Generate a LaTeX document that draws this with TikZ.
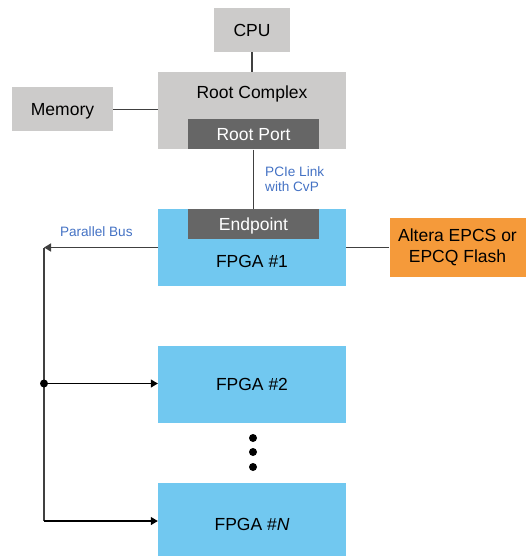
\documentclass[tikz,border=0pt]{standalone}
\usepackage{fontspec}
\setmainfont{Liberation Sans}
\usetikzlibrary{arrows.meta}

\definecolor{hostgray}{HTML}{CCCBCA}
\definecolor{portgray}{HTML}{666666}
\definecolor{fpgablue}{HTML}{71C8F0}
\definecolor{flashorange}{HTML}{F59A3A}
\definecolor{linkblue}{HTML}{4472C4}
\definecolor{wiregray}{HTML}{404040}

\begin{document}
\begin{tikzpicture}[
  x=1pt, y=-1pt,
  every node/.style = {font=\fontsize{17.5}{20.7}\selectfont, inner sep=0pt},
  onetext/.style  = {text height=12.6pt, text depth=0pt},
  hostbox/.style  = {rectangle, fill=hostgray},
  portbox/.style  = {rectangle, fill=portgray, text=white, onetext,
                     minimum width=131pt, minimum height=30pt},
  fpgabox/.style  = {rectangle, fill=fpgablue,
                     minimum width=188pt, minimum height=#1},
  flashbox/.style = {rectangle, fill=flashorange, align=center,
                     minimum width=136pt, minimum height=59pt},
  buslbl/.style   = {font=\fontsize{13.6}{15.7}\selectfont, text=linkblue},
  wire/.style     = {line width=1.5pt, wiregray},
  busarr/.style   = {-{Triangle[length=7pt, width=8pt]}, line width=1.2pt, black},
]
\useasboundingbox (0,0) rectangle (525,556);

%% ── Host side ─────────────────────────────────────────────────────────────
\node[hostbox, onetext, minimum width=76pt, minimum height=44pt]
  at (252, 30) (cpu) {CPU};
\node[hostbox, minimum width=188pt, minimum height=77pt]
  at (252, 110.5) (rc) {};
\node[onetext] at (252, 92.3) (rctext) {Root Complex};
\node[portbox] at (253.5, 134.5) (rport) {Root Port};
\node[hostbox, onetext, minimum width=101pt, minimum height=44pt]
  at (62.5, 109.5) (mem) {Memory};

%% ── FPGA #1 and flash ─────────────────────────────────────────────────────
\node[fpgabox=77pt] at (252, 247.5) (fpga1) {};
\node[portbox] at (253.5, 224) (endpt) {Endpoint};
\node[onetext] at (252, 261) (fpga1text) {FPGA \#1};
\node[flashbox] at (457.5, 247.5) (flash) {Altera EPCS or\\EPCQ Flash};

%% ── Further FPGAs ─────────────────────────────────────────────────────────
\node[fpgabox=77pt, onetext] at (252, 384.5) (fpga2) {FPGA \#2};
\node[fpgabox=82pt] at (252, 524) (fpgaN) {};
\node[onetext] at (252, 524) (fpgaNtext) {FPGA \#\textit{N}};
\foreach \y in {438, 452, 467}
  \fill (253, \y) circle (4pt);

%% ── Labels ───────────────────────────────────────────────────────────────
\node[buslbl, align=left, anchor=base west]
  at (265, 191.7) (linklbl) {PCIe Link\\with CvP};
\node[buslbl, onetext, text height=9.9pt] at (96.3, 231.7) (buslbl) {Parallel Bus};

%% ── Connectors ───────────────────────────────────────────────────────────
\coordinate (bustop) at (44, 247.5);
\coordinate (junc)   at (44, 383.5);
\coordinate (busbot) at (44, 521);

\draw[wire] (cpu) -- (cpu |- rc.north);
\draw[wire] (mem.east) -- (mem.east -| rc.west);
\draw[wire] (rport) -- (endpt);
\draw[wire] (flash.west) -- (flash.west -| fpga1.east);
\draw[wire, -{Triangle[length=7pt, width=8pt]}] (fpga1.west) -- (bustop);
\draw[wire] (bustop) -- (busbot);
\fill (junc) circle (4pt);
\draw[busarr] (junc) -- (junc -| fpga2.west);
\draw[busarr] (busbot) -- (busbot -| fpgaN.west);

\end{tikzpicture}
\end{document}
